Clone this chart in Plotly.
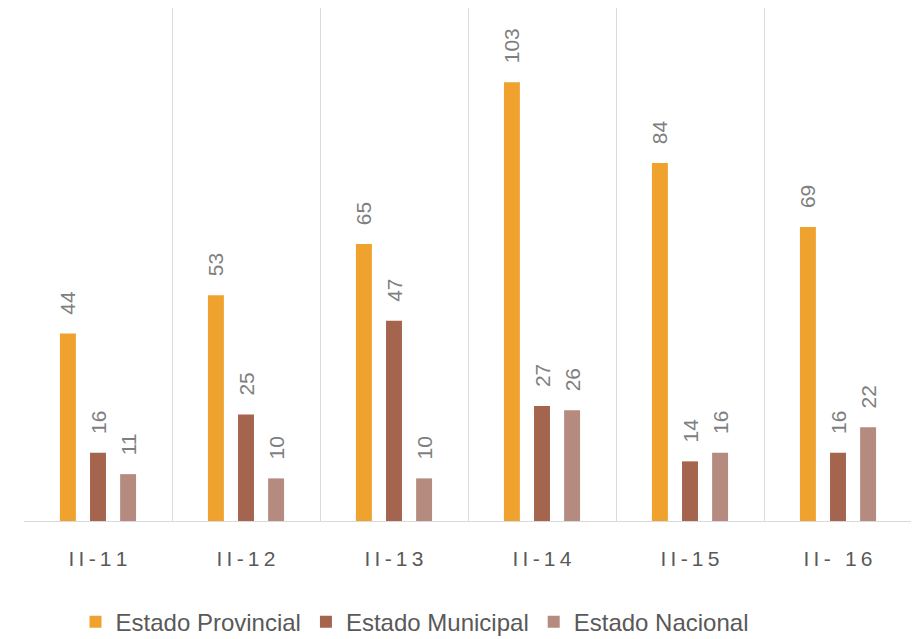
import plotly.graph_objects as go

T = "\u2009"
categories = ["II-11", "II-12", "II-13", "II-14", "II-15", "II- 16"]
tick_labels = [T.join(list(c)) for c in categories]
provincial = [44, 53, 65, 103, 84, 69]
municipal = [16, 25, 47, 27, 14, 16]
nacional = [11, 10, 10, 26, 16, 22]

series = [
    ("Estado Provincial", provincial, "#F0A22E"),
    ("Estado Municipal", municipal, "#A5644E"),
    ("Estado Nacional", nacional, "#B58B80"),
]

fig = go.Figure()
for name, vals, color in series:
    fig.add_trace(go.Bar(
        x=categories, y=vals, name=name,
        marker=dict(color=color, line=dict(width=0)),
        text=[f"\u00a0\u00a0\u2009{v}" for v in vals],
        textposition="outside", textangle=-90,
        constraintext="none", cliponaxis=False,
        textfont=dict(family="Liberation Sans, Arial, sans-serif", size=21, color="#7F7F7F"),
    ))

# The page body adds an 8px offset, so the figure is 8px smaller and margins compensate
fig.update_layout(
    width=911, height=631,
    barmode="group", bargap=0.39, bargroupgap=0.47,
    margin=dict(l=16, r=7, t=0, b=118, autoexpand=False),
    plot_bgcolor="white", paper_bgcolor="white",
    font=dict(family="Liberation Sans, Arial, sans-serif", color="#595959"),
    showlegend=True,
    legend=dict(orientation="h", x=0.058, xanchor="left", y=-0.197, yanchor="middle",
                font=dict(size=24, color="#595959"), traceorder="normal"),
)
fig.update_xaxes(
    tickmode="array", tickvals=categories, ticktext=tick_labels,
    tickson="boundaries", showgrid=True, gridcolor="#D9D9D9", gridwidth=1,
    showline=True, linecolor="#D9D9D9", linewidth=1,
    ticks="", ticklabelstandoff=19, automargin=False,
    tickfont=dict(size=21, color="#595959"),
)
fig.update_yaxes(range=[0, 120.4], visible=False, showgrid=False, zeroline=False)

fig.write_html("out.html")
